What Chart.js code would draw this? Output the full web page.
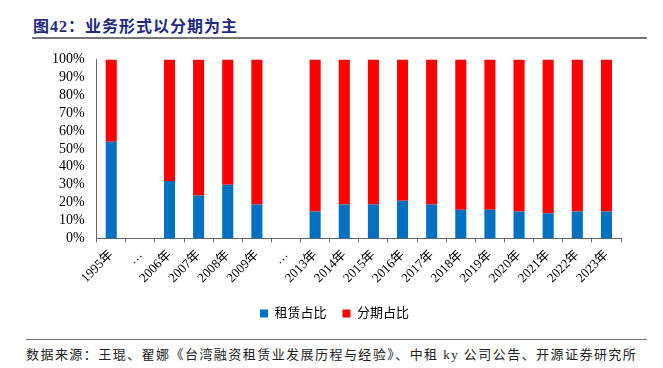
<!DOCTYPE html>
<html>
<head>
<meta charset="utf-8">
<script src="https://cdn.jsdelivr.net/npm/chart.js@4/dist/chart.umd.min.js"></script>
<style>
  body { margin: 0; width: 663px; height: 368px; background: #fff; position: relative; overflow: hidden; }
  .title { position: absolute; left: 33px; top: 13px; font: bold 16px "Liberation Serif", "Noto Sans CJK SC", serif; color: #1f2a85; letter-spacing: 1px; }
  .rule { position: absolute; left: 32px; width: 615px; height: 2px; background: #777; }
  .source { position: absolute; left: 26px; top: 344px; font: 13px "Liberation Serif", "Noto Sans CJK SC", serif; color: #222; letter-spacing: 1.45px; white-space: nowrap; }
  .chartBox { position: absolute; left: 0; top: 47px; width: 663px; height: 283px; }
</style>
</head>
<body>
<div class="title">图42：业务形式以分期为主</div>
<div class="rule" style="top:37px"></div>
<div class="chartBox"><canvas id="chart"></canvas></div>
<div class="rule" style="top:339px; left:26px; width:621px; height:1px;"></div>
<div class="source">数据来源：王琨、翟娜《台湾融资租赁业发展历程与经验》、中租 ky 公司公告、开源证券研究所</div>
<script>
// categories (the "…" slots are gaps in the original series)
const years = ['1995年', '…', '2006年', '2007年', '2008年', '2009年', '…',
  '2013年', '2014年', '2015年', '2016年', '2017年', '2018年', '2019年',
  '2020年', '2021年', '2022年', '2023年'];

// share of leasing (%)
const leaseShare = [54, null, 32, 24, 30, 19, null,
  15, 19, 19, 21, 19, 16, 16, 15, 14, 15, 15];

// share of instalment (%)
const installShare = [46, null, 68, 76, 70, 81, null,
  85, 81, 81, 79, 81, 84, 84, 85, 86, 85, 85];

const serif = '"Liberation Serif", "Noto Sans CJK SC", serif';

new Chart(document.getElementById('chart').getContext('2d'), {
  type: 'bar',
  data: {
    labels: years,
    datasets: [
      {
        label: '租赁占比',
        data: leaseShare,
        backgroundColor: '#0070c0',
        barPercentage: 0.38,
        categoryPercentage: 1,
      },
      {
        label: '分期占比',
        data: installShare,
        backgroundColor: '#ff0000',
        barPercentage: 0.38,
        categoryPercentage: 1,
      },
    ],
  },
  options: {
    responsive: true,
    maintainAspectRatio: false,
    animation: false,
    layout: { padding: { left: 48, right: 42, top: 2, bottom: 0 } },
    scales: {
      x: {
        stacked: true,
        offset: true,
        grid: {
          display: true,
          offset: true,
          drawOnChartArea: false,
          drawTicks: true,
          tickLength: 4,
          color: '#666',
        },
        border: { color: '#666' },
        ticks: {
          color: '#000',
          font: { family: serif, size: 13 },
          minRotation: 45,
          maxRotation: 45,
          autoSkip: false,
          padding: 5,
        },
      },
      y: {
        stacked: true,
        min: 0,
        max: 100,
        grid: { display: false },
        border: { color: '#666' },
        ticks: {
          stepSize: 10,
          autoSkip: false,
          color: '#000',
          font: { family: serif, size: 14 },
          callback: (v) => v + '%',
          padding: 4,
        },
      },
    },
    plugins: {
      legend: {
        position: 'bottom',
        labels: {
          boxWidth: 8,
          boxHeight: 8,
          padding: 16,
          color: '#000',
          font: { family: serif, size: 13 },
        },
      },
      tooltip: { enabled: false },
    },
  },
});
</script>
</body>
</html>
